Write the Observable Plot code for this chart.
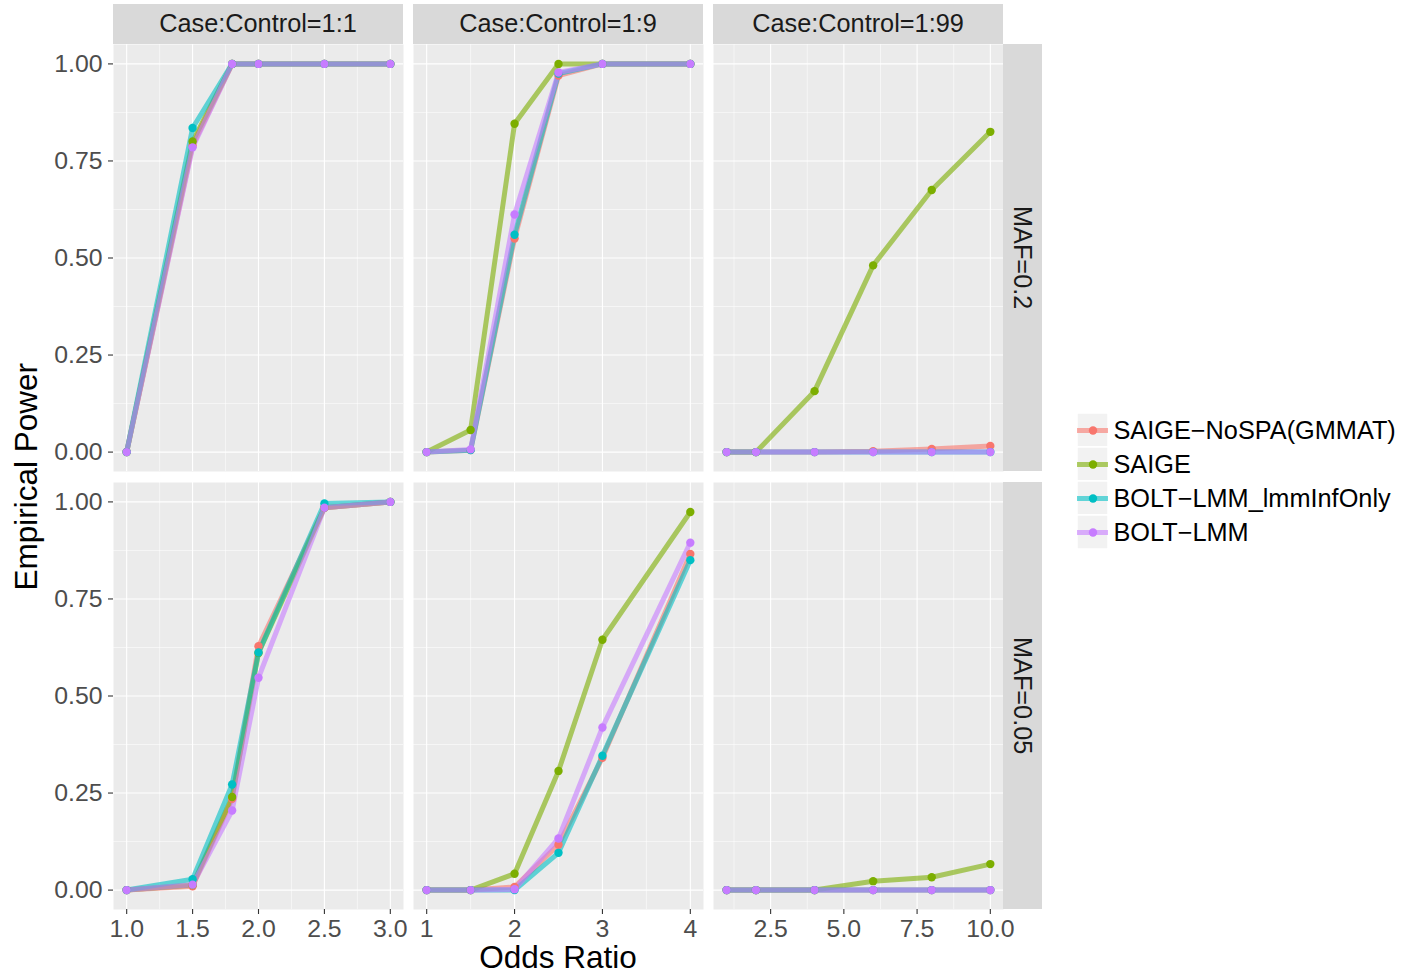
<!DOCTYPE html>
<html><head><meta charset="utf-8">
<script src="https://cdn.jsdelivr.net/npm/d3@7"></script>
<script src="https://cdn.jsdelivr.net/npm/@observablehq/plot@0.6"></script>
<style>
html,body{margin:0;padding:0;background:#fff;}
#chart{position:relative;width:1413px;height:977px;font-family:"Liberation Sans",Arial,Helvetica,sans-serif;overflow:hidden;background:#fff;}
#chart > svg, #chart > div{position:absolute;}
.strip{background:#D9D9D9;color:#1A1A1A;font-size:25.3px;display:flex;align-items:center;justify-content:center;line-height:1;white-space:nowrap;}
.strip .rot{display:inline-block;transform:rotate(90deg);}
.title{color:#000;font-size:31.5px;line-height:1;white-space:nowrap;display:flex;align-items:center;justify-content:center;}
</style></head><body><div id="chart"></div><script>
// ---- data ----
const methods = ["SAIGE\u2212NoSPA(GMMAT)", "SAIGE", "BOLT\u2212LMM_lmmInfOnly", "BOLT\u2212LMM"];
const methodColors = ["#F8766D", "#7CAE00", "#00BFC4", "#C77CFF"];
const caseControl = ["Case:Control=1:1", "Case:Control=1:9", "Case:Control=1:99"];
const mafLabels = ["MAF=0.2", "MAF=0.05"];

const oddsRatio_1_1 = [1, 1.5, 1.8, 2, 2.5, 3];
const oddsRatio_1_9 = [1, 1.5, 2, 2.5, 3, 4];
const oddsRatio_1_99 = [1, 2, 4, 6, 8, 10];

// power per method (order of `methods`)
const power_MAF02_1_1 = [
  [0, 0.79, 1, 1, 1, 1],
  [0, 0.80, 1, 1, 1, 1],
  [0, 0.835, 1, 1, 1, 1],
  [0, 0.785, 1, 1, 1, 1]
];
const power_MAF02_1_9 = [
  [0, 0.005, 0.55, 0.97, 1, 1],
  [0, 0.057, 0.846, 1, 1, 1],
  [0, 0.005, 0.56, 0.975, 1, 1],
  [0, 0.007, 0.612, 0.978, 1, 1]
];
const power_MAF02_1_99 = [
  [0, 0, 0, 0.002, 0.008, 0.016],
  [0, 0, 0.157, 0.481, 0.675, 0.825],
  [0, 0, 0, 0, 0, 0],
  [0, 0, 0, 0, 0, 0]
];
const power_MAF005_1_1 = [
  [0, 0.010, 0.235, 0.628, 0.985, 1],
  [0, 0.013, 0.240, 0.611, 0.985, 1],
  [0, 0.028, 0.272, 0.612, 0.996, 1],
  [0, 0.014, 0.205, 0.547, 0.985, 1]
];
const power_MAF005_1_9 = [
  [0, 0, 0.008, 0.117, 0.341, 0.866],
  [0, 0, 0.042, 0.307, 0.645, 0.974],
  [0, 0, 0, 0.096, 0.346, 0.850],
  [0, 0, 0.002, 0.133, 0.419, 0.895]
];
const power_MAF005_1_99 = [
  [0, 0, 0, 0, 0, 0],
  [0, 0, 0, 0.023, 0.033, 0.067],
  [0, 0, 0, 0, 0, 0],
  [0, 0, 0, 0, 0, 0]
];

// ticks
const yTicks = [0, 0.25, 0.5, 0.75, 1];
const yTickLabels = ["0.00", "0.25", "0.50", "0.75", "1.00"];
const yMinor = [0.125, 0.375, 0.625, 0.875];
const xTicks_1_1 = [1, 1.5, 2, 2.5, 3];
const xTickLabels_1_1 = ["1.0", "1.5", "2.0", "2.5", "3.0"];
const xMinor_1_1 = [1.25, 1.75, 2.25, 2.75];
const xTicks_1_9 = [1, 2, 3, 4];
const xTickLabels_1_9 = ["1", "2", "3", "4"];
const xMinor_1_9 = [1.5, 2.5, 3.5];
const xTicks_1_99 = [2.5, 5, 7.5, 10];
const xTickLabels_1_99 = ["2.5", "5.0", "7.5", "10.0"];
const xMinor_1_99 = [1.25, 3.75, 6.25, 8.75];

const xLabel = "Odds Ratio";
const yLabel = "Empirical Power";

// ---- layout ----
const chart = document.getElementById("chart");
const colLeft = [113, 413, 713];
const rowTop = [44, 482];
const PW = 290, PH = 427;
const stripH = 40, stripW = 39;
const font = '"Liberation Sans", Arial, Helvetica, sans-serif';
const tickFont = 24.8;

const columns = [
  {xs: oddsRatio_1_1, ticks: xTicks_1_1, labels: xTickLabels_1_1, minor: xMinor_1_1},
  {xs: oddsRatio_1_9, ticks: xTicks_1_9, labels: xTickLabels_1_9, minor: xMinor_1_9},
  {xs: oddsRatio_1_99, ticks: xTicks_1_99, labels: xTickLabels_1_99, minor: xMinor_1_99}
];
const powers = [
  [power_MAF02_1_1, power_MAF02_1_9, power_MAF02_1_99],
  [power_MAF005_1_1, power_MAF005_1_9, power_MAF005_1_99]
];

function expand(ext, f = 0.05) {
  const d = (ext[1] - ext[0]) * f;
  return [ext[0] - d, ext[1] + d];
}
const yDomain = expand([0, 1]);

function toRows(xs, power) {
  const out = [];
  methods.forEach((m, i) => xs.forEach((x, j) => out.push({method: m, or: x, power: power[i][j]})));
  return out;
}

const gridMajor = {stroke: "white", strokeOpacity: 1, strokeWidth: 1.1};
const gridMinor = {stroke: "white", strokeOpacity: 1, strokeWidth: 0.55};

for (let r = 0; r < 2; r++) {
  for (let c = 0; c < 3; c++) {
    const col = columns[c];
    const rows = toRows(col.xs, powers[r][c]);
    const ml = c === 0 ? 80 : 0;
    const mb = r === 1 ? 45 : 0;
    const plot = Plot.plot({
      width: PW + ml, height: PH + mb,
      marginLeft: ml, marginRight: 0, marginTop: 0, marginBottom: mb,
      x: {domain: expand(d3.extent(col.xs)), axis: null},
      y: {domain: yDomain, axis: null},
      color: {domain: methods, range: methodColors},
      style: {background: "transparent", overflow: "visible", fontFamily: font, fontSize: tickFont + "px"},
      marks: [
        Plot.frame({fill: "#EBEBEB", stroke: "none"}),
        Plot.gridX(col.minor, gridMinor),
        Plot.gridY(yMinor, gridMinor),
        Plot.gridX(col.ticks, gridMajor),
        Plot.gridY(yTicks, gridMajor),
        Plot.line(rows, {x: "or", y: "power", z: "method", stroke: "method", strokeWidth: 5, strokeOpacity: 0.6, strokeLinecap: "butt", strokeLinejoin: "round"}),
        Plot.dot(rows, {x: "or", y: "power", fill: "method", r: 4.2}),
        ml ? Plot.axisY(yTicks, {tickSize: 5, tickPadding: 6, tickFormat: d => yTickLabels[yTicks.indexOf(d)], fontSize: tickFont, fill: "#4D4D4D", stroke: "#333333", strokeWidth: 1.1, label: null}) : null,
        mb ? Plot.axisX(col.ticks, {tickSize: 5, tickPadding: 5, tickFormat: d => col.labels[col.ticks.indexOf(d)], fontSize: tickFont, fill: "#4D4D4D", stroke: "#333333", strokeWidth: 1.1, label: null}) : null
      ]
    });
    plot.style.left = (colLeft[c] - ml) + "px";
    plot.style.top = rowTop[r] + "px";
    chart.appendChild(plot);
  }
}

// strips
caseControl.forEach((t, c) => {
  const d = document.createElement("div");
  d.className = "strip";
  d.style.left = colLeft[c] + "px"; d.style.top = (rowTop[0] - stripH) + "px";
  d.style.width = PW + "px"; d.style.height = stripH + "px";
  d.textContent = t;
  chart.appendChild(d);
});
mafLabels.forEach((t, r) => {
  const d = document.createElement("div");
  d.className = "strip";
  d.style.left = (colLeft[2] + PW) + "px"; d.style.top = rowTop[r] + "px";
  d.style.width = stripW + "px"; d.style.height = PH + "px";
  const s = document.createElement("span");
  s.className = "rot"; s.textContent = t;
  d.appendChild(s);
  chart.appendChild(d);
});

// axis titles
const xt = document.createElement("div");
xt.className = "title";
xt.style.left = colLeft[0] + "px"; xt.style.width = (colLeft[2] + PW - colLeft[0]) + "px";
xt.style.top = "940px"; xt.style.height = "36px";
xt.textContent = xLabel;
chart.appendChild(xt);

const yt = document.createElement("div");
yt.className = "title";
yt.style.left = "27px"; yt.style.top = "477px"; yt.style.width = "0px"; yt.style.height = "0px";
const ys = document.createElement("span");
ys.style.display = "inline-block"; ys.style.transform = "rotate(-90deg)";
ys.textContent = yLabel;
yt.appendChild(ys);
chart.appendChild(yt);

// legend
const bandH = 34;
const legend = Plot.plot({
  width: 336, height: bandH * methods.length, margin: 0,
  x: {type: "identity", axis: null},
  y: {type: "band", domain: methods, range: [0, bandH * methods.length], padding: 0, axis: null},
  color: {domain: methods, range: methodColors},
  style: {background: "transparent", overflow: "visible", fontFamily: font},
  marks: [
    Plot.barX(methods, {y: d => d, x1: 0, x2: 31, fill: "#F2F2F2", stroke: "white", strokeWidth: 1.5}),
    Plot.ruleY(methods, {y: d => d, x1: 0, x2: 31, stroke: d => d, strokeWidth: 5, strokeOpacity: 0.6}),
    Plot.dot(methods, {y: d => d, x: 15.5, fill: d => d, r: 4.2}),
    Plot.text(methods, {y: d => d, x: 36, text: d => d, textAnchor: "start", fontSize: 25.3, fill: "#000"})
  ]
});
legend.style.left = "1077px";
legend.style.top = "413px";
chart.appendChild(legend);
</script></body></html>
